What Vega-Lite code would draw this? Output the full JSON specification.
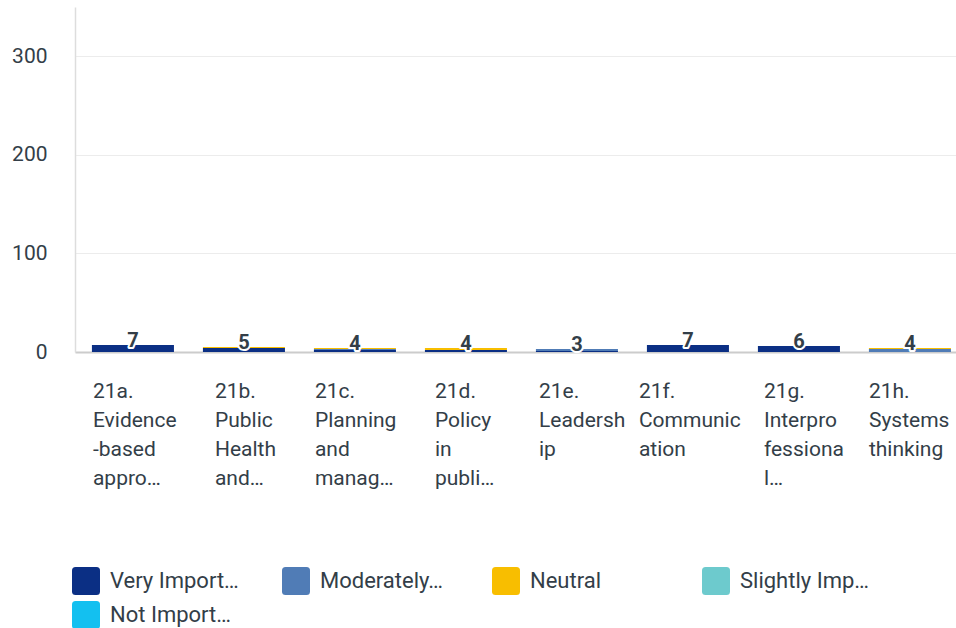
{
  "$schema": "https://vega.github.io/schema/vega-lite/v6.json",
  "width": 881,
  "height": 345,
  "autosize": "none",
  "padding": {"left": 75, "top": 7, "right": 0, "bottom": 276},
  "background": "white",
  "config": {"view": {"stroke": null}, "font": "Roboto"},
  "data": {
    "values": [
      {"q": "21a.|Evidence|-based|appro…", "level": "Very Important", "rank": 1, "n": 7},
      {"q": "21b.|Public|Health|and…", "level": "Very Important", "rank": 1, "n": 4},
      {"q": "21b.|Public|Health|and…", "level": "Neutral", "rank": 3, "n": 1},
      {"q": "21c.|Planning|and|manag…", "level": "Very Important", "rank": 1, "n": 2},
      {"q": "21c.|Planning|and|manag…", "level": "Moderately Important", "rank": 2, "n": 1},
      {"q": "21c.|Planning|and|manag…", "level": "Neutral", "rank": 3, "n": 1},
      {"q": "21d.|Policy|in|publi…", "level": "Very Important", "rank": 1, "n": 2},
      {"q": "21d.|Policy|in|publi…", "level": "Neutral", "rank": 3, "n": 2},
      {"q": "21e.|Leadersh|ip", "level": "Very Important", "rank": 1, "n": 1},
      {"q": "21e.|Leadersh|ip", "level": "Moderately Important", "rank": 2, "n": 2},
      {"q": "21f.|Communic|ation", "level": "Very Important", "rank": 1, "n": 7},
      {"q": "21g.|Interpro|fessiona|l…", "level": "Very Important", "rank": 1, "n": 6},
      {"q": "21h.|Systems|thinking", "level": "Moderately Important", "rank": 2, "n": 3},
      {"q": "21h.|Systems|thinking", "level": "Neutral", "rank": 3, "n": 1}
    ]
  },
  "encoding": {
    "x": {
      "field": "q", "type": "nominal", "sort": null,
      "scale": {"paddingInner": 0.261, "paddingOuter": 0.099, "align": 0.77},
      "axis": {
        "title": null, "labelExpr": "split(datum.label, '|')", "labelAlign": "left",
        "labelBaseline": "top", "labelPadding": 28, "ticks": false,
        "domainColor": "#cccccc", "domainWidth": 2, "labelFontSize": 21, "labelColor": "#333e48",
        "labelLineHeight": 29, "labelAngle": 0, "labelOverlap": false, "labelBound": false, "grid": false,
        "labelOffset": {
          "condition": [
            {"test": "indexof(datum.value, '21b.') == 0", "value": -29},
            {"test": "indexof(datum.value, '21c.') == 0", "value": -40},
            {"test": "indexof(datum.value, '21d.') == 0", "value": -31},
            {"test": "indexof(datum.value, '21e.') == 0", "value": -38},
            {"test": "indexof(datum.value, '21f.') == 0", "value": -49},
            {"test": "indexof(datum.value, '21g.') == 0", "value": -35},
            {"test": "indexof(datum.value, '21h.') == 0", "value": -41}
          ],
          "value": -40
        }
      }
    }
  },
  "layer": [
    {
      "mark": {"type": "bar"},
      "encoding": {
        "y": {
          "field": "n", "type": "quantitative", "stack": "zero",
          "scale": {"domain": [0, 350], "nice": false},
          "axis": {
            "title": null, "values": [0, 100, 200, 300], "ticks": false,
            "domainColor": "#dddddd", "domainWidth": 1.5, "gridColor": "#ececec",
            "labelFontSize": 21, "labelColor": "#333e48", "labelPadding": 28
          }
        },
        "color": {
          "field": "level", "type": "nominal",
          "scale": {
            "domain": ["Very Important", "Moderately Important", "Neutral", "Slightly Important", "Not Important"],
            "range": ["#0b2f84", "#507cb6", "#f8be00", "#6dcacd", "#13c0f0"]
          },
          "legend": {
            "title": null, "orient": "none", "legendX": -3, "legendY": 560,
            "direction": "horizontal", "columns": 4, "gridAlign": "all",
            "symbolType": "M-0.75,-1H0.75Q1,-1,1,-0.75V0.75Q1,1,0.75,1H-0.75Q-1,1,-1,0.75V-0.75Q-1,-1,-0.75,-1Z",
            "symbolSize": 784, "symbolStrokeWidth": 0, "symbolOpacity": 1,
            "labelFontSize": 22, "labelColor": "#333e48", "labelOffset": 10,
            "columnPadding": 43, "rowPadding": 6, "labelLimit": 200,
            "labelExpr": "datum.label == 'Very Important' ? 'Very Import…' : datum.label == 'Moderately Important' ? 'Moderately…' : datum.label == 'Slightly Important' ? 'Slightly Imp…' : datum.label == 'Not Important' ? 'Not Import…' : datum.label"
          }
        },
        "order": {"field": "rank", "type": "quantitative"}
      }
    },
    {
      "transform": [{"aggregate": [{"op": "sum", "field": "n", "as": "total"}], "groupby": ["q"]}],
      "mark": {"type": "text", "fontSize": 20, "fontWeight": "bold", "baseline": "middle", "dy": -4, "stroke": "white", "strokeWidth": 4, "strokeJoin": "round", "fill": "white"},
      "encoding": {
        "y": {"field": "total", "type": "quantitative"},
        "text": {"field": "total", "type": "quantitative"}
      }
    },
    {
      "transform": [{"aggregate": [{"op": "sum", "field": "n", "as": "total"}], "groupby": ["q"]}],
      "mark": {"type": "text", "fontSize": 20, "fontWeight": "bold", "baseline": "middle", "dy": -4, "fill": "#333e48"},
      "encoding": {
        "y": {"field": "total", "type": "quantitative"},
        "text": {"field": "total", "type": "quantitative"}
      }
    }
  ]
}
